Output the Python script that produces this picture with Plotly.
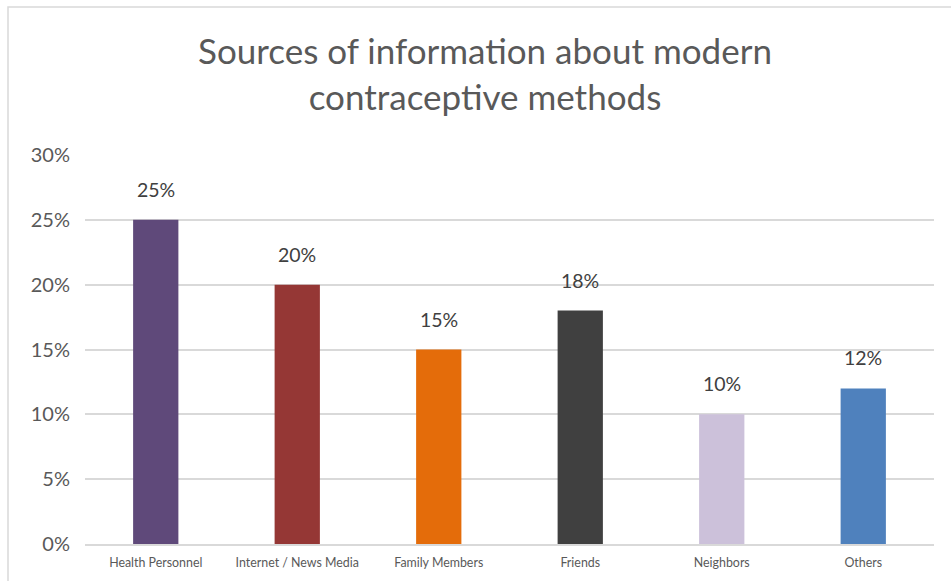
import plotly.graph_objects as go

categories = ["Health Personnel", "Internet / News Media", "Family Members",
              "Friends", "Neighbors", "Others"]
shares = [0.25, 0.20, 0.15, 0.18, 0.10, 0.12]
bar_colors = ["#5F497A", "#953735", "#E46C0A", "#404040", "#CCC1DA", "#4F81BD"]
y_ticks = [0, 0.05, 0.10, 0.15, 0.20, 0.25, 0.30]
y_tick_labels = ["0%", "5%", "10%", "15%", "20%", "25%", "30%"]

FONT = "Lato"

fig = go.Figure(
    go.Bar(
        x=categories,
        y=shares,
        marker=dict(color=bar_colors, line=dict(width=0)),
        hoverinfo="skip",
    )
)

# value labels above each bar
for cat, val in zip(categories, shares):
    fig.add_annotation(
        x=cat, y=val, text=f"{round(val * 100)}%",
        showarrow=False, yanchor="bottom", yshift=17,
        font=dict(family=FONT, size=19.5, color="#404040"),
    )

# chart border
fig.add_shape(
    type="rect", xref="paper", yref="paper",
    x0=-0.0907, y0=-0.3, x1=1.2, y1=1.3805,
    line=dict(color="#D9D9D9", width=1.5), layer="below",
)

fig.update_layout(
    width=951, height=581,
    margin=dict(l=85, r=17, t=155, b=37),
    paper_bgcolor="white", plot_bgcolor="white",
    bargap=0.68,
    showlegend=False,
    title=dict(
        text="Sources of information about modern<br>contraceptive methods",
        x=485 / 951, xanchor="center", xref="container",
        y=1 - 64 / 581, yanchor="middle", yref="container",
        font=dict(family=FONT, size=35, color="#595959"),
    ),
    xaxis=dict(
        showgrid=False, showline=True, linecolor="#D9D9D9", linewidth=1.5,
        ticks="", ticklabelstandoff=6,
        tickfont=dict(family=FONT, size=12.4, color="#595959"),
        fixedrange=True,
    ),
    yaxis=dict(
        range=[0, 0.30], tickvals=y_ticks, ticktext=y_tick_labels,
        showgrid=True, gridcolor="#D9D9D9", gridwidth=1.5,
        zeroline=False, showline=False, ticks="",
        ticklabelstandoff=14,
        tickfont=dict(family=FONT, size=20, color="#595959"),
        fixedrange=True,
    ),
)

fig.write_html("out.html")
